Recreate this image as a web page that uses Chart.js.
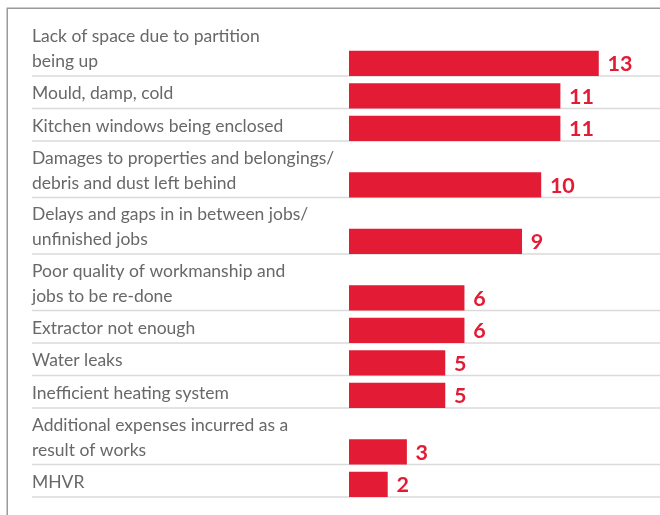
<!DOCTYPE html>
<html>
<head>
<meta charset="utf-8">
<script src="https://cdn.jsdelivr.net/npm/chart.js@4"></script>
<style>
  html, body { margin: 0; padding: 0; background: #ffffff; }
  #wrap { position: relative; width: 660px; height: 515px; }
</style>
</head>
<body>
<div id="wrap"><canvas id="c" width="660" height="515"></canvas></div>
<script>
// ---- Data ----
const categories = [
  ["Lack of space due to partition", "being up"],
  ["Mould, damp, cold"],
  ["Kitchen windows being enclosed"],
  ["Damages to properties and belongings/", "debris and dust left behind"],
  ["Delays and gaps in in between jobs/", "unfinished jobs"],
  ["Poor quality of workmanship and", "jobs to be re-done"],
  ["Extractor not enough"],
  ["Water leaks"],
  ["Inefficient heating system"],
  ["Additional expenses incurred as a", "result of works"],
  ["MHVR"]
];
const values = [13, 11, 11, 10, 9, 6, 6, 5, 5, 3, 2];

// ---- Layout of rows (variable height, from the number of label lines) ----
const LINE_H = 24;
const ROW_PAD = 8.5;
const BAR_H = 24.5;
const TEXT_LINE = 25;
const LABEL_X = 32;
const rowBottoms = [];
const rowCenters = [];
const barCenters = [];
let acc = 0;
categories.forEach(lines => {
  const h = ROW_PAD + LINE_H * lines.length;
  const top = acc;
  acc += h;
  rowCenters.push(top + h / 2);
  rowBottoms.push(acc);
  barCenters.push(acc - BAR_H / 2 - 0.3);
});
const totalRows = acc;

const RED = '#E31B34';

const decor = {
  id: 'decor',
  beforeDraw(chart) {
    const ctx = chart.ctx;
    const ys = chart.scales.y;
    ctx.save();
    // frame
    ctx.strokeStyle = '#9a9a9a';
    ctx.lineWidth = 1.5;
    ctx.beginPath();
    ctx.moveTo(660, 8.25);
    ctx.lineTo(7.25, 8.25);
    ctx.lineTo(7.25, 515);
    ctx.stroke();
    // row separators
    ctx.strokeStyle = '#dadada';
    ctx.lineWidth = 1.3;
    rowBottoms.forEach(b => {
      const y = ys.getPixelForValue(b);
      ctx.beginPath();
      ctx.moveTo(LABEL_X, y);
      ctx.lineTo(660, y);
      ctx.stroke();
    });
    // category labels
    ctx.fillStyle = '#686868';
    ctx.font = '17.5px Lato';
    ctx.textAlign = 'left';
    ctx.textBaseline = 'middle';
    categories.forEach((lines, i) => {
      const yc = ys.getPixelForValue(rowCenters[i]);
      const y0 = yc - (lines.length - 1) * TEXT_LINE / 2;
      lines.forEach((t, k) => ctx.fillText(t, LABEL_X, y0 + k * TEXT_LINE + 1.5));
    });
    ctx.restore();
  },
  afterDatasetsDraw(chart) {
    const ctx = chart.ctx;
    const meta = chart.getDatasetMeta(0);
    ctx.save();
    ctx.fillStyle = RED;
    ctx.font = 'bold 21.5px Lato';
    ctx.textAlign = 'left';
    ctx.textBaseline = 'middle';
    meta.data.forEach((bar, i) => {
      ctx.fillText(String(values[i]), bar.x + 9, bar.y + 1);
    });
    ctx.restore();
  }
};

new Chart(document.getElementById('c'), {
  type: 'bar',
  data: {
    datasets: [{
      data: values.map((v, i) => ({ x: v, y: barCenters[i] })),
      backgroundColor: RED,
      borderWidth: 0,
      barThickness: BAR_H
    }]
  },
  options: {
    indexAxis: 'y',
    responsive: false,
    animation: false,
    layout: { padding: { left: 349, right: 4, top: 19.5, bottom: 18 } },
    plugins: { legend: { display: false }, tooltip: { enabled: false } },
    scales: {
      x: {
        type: 'linear',
        display: false,
        offset: false,
        min: 0,
        max: 16
      },
      y: {
        type: 'linear',
        display: false,
        offset: false,
        reverse: true,
        min: 0,
        max: totalRows
      }
    }
  },
  plugins: [decor]
});
</script>
</body>
</html>
